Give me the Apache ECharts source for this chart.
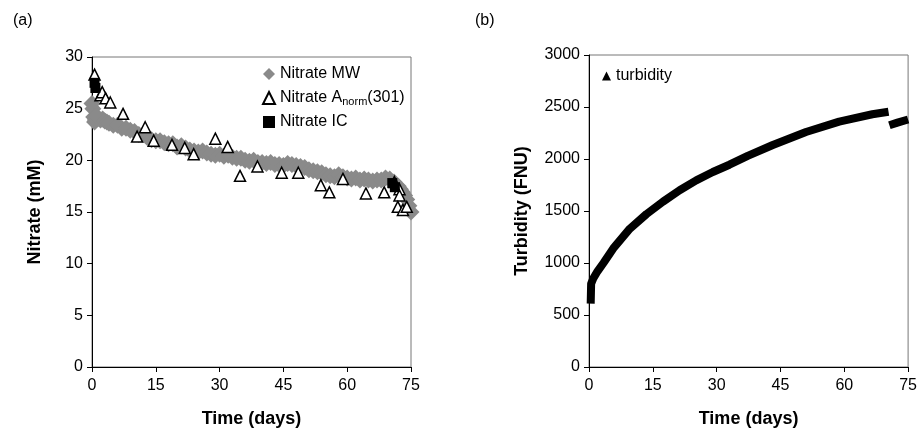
<!DOCTYPE html>
<html>
<head>
    <meta charset="utf-8">
    <title>Nitrate and turbidity</title>
    <script src="https://cdn.jsdelivr.net/npm/echarts@6/dist/echarts.min.js"></script>
    <style>
        html, body { margin: 0; padding: 0; background: #fff; }
        #main { width: 920px; height: 433px; }
    </style>
</head>
<body>
<div id="main"></div>
<script>
    // (a) nitrate MW - dense measurement band
    var mwTime = [0, 0.2, 0.4, 0.6, 0.8, 1, 1.5, 2, 2.5, 3, 3.5, 4, 5, 6, 7, 8, 9, 10, 11, 12, 13, 14, 15,
        16, 17, 18, 19, 20, 21, 22, 23, 24, 25, 26, 27, 28, 29, 30, 31, 32, 33, 34, 35, 36, 37, 38, 39, 40,
        41, 42, 43, 44, 45, 46, 47, 48, 49, 50, 51, 52, 53, 54, 55, 56, 57, 58, 59, 60, 61, 62, 63, 64, 65,
        66, 67, 68, 69, 70, 71, 72, 72.5, 73, 73.5, 74, 74.5, 75];
    var mwNitrate = [25.5, 25.0, 24.2, 23.7, 23.9, 24.3, 24.1, 23.9, 24.0, 23.8, 23.7, 23.6, 23.4, 23.4, 23.1,
        23.1, 22.9, 22.8, 22.5, 22.5, 22.2, 22.0, 21.9, 21.9, 21.7, 21.6, 21.6, 21.3, 21.4, 21.2, 21.0, 20.9,
        20.8, 20.9, 20.7, 20.6, 20.5, 20.6, 20.4, 20.5, 20.3, 20.2, 20.2, 20.0, 19.9, 20.0, 19.8, 19.8, 19.7,
        19.8, 19.6, 19.6, 19.5, 19.7, 19.6, 19.5, 19.4, 19.3, 19.1, 19.0, 18.9, 18.8, 18.6, 18.5, 18.4, 18.6,
        18.4, 18.3, 18.2, 18.3, 18.1, 18.2, 18.1, 18.0, 18.1, 18.1, 18.3, 18.2, 17.9, 17.5, 17.2, 16.9, 16.6,
        16.2, 15.6, 15.0];

    // nitrate from A_norm(301)
    var anTime = [0.6, 2.0, 2.4, 3.2, 4.3, 7.3, 10.6, 12.5, 14.5, 18.8, 21.8, 23.9, 29.0, 31.9, 34.8, 38.9,
        44.6, 48.5, 53.8, 55.8, 59.0, 64.4, 68.7, 71.1, 72.3, 72.3, 71.9, 73.1, 74.0];
    var anNitrate = [28.3, 26.3, 26.6, 26.0, 25.6, 24.5, 22.3, 23.2, 21.9, 21.5, 21.2, 20.6, 22.1, 21.3, 18.5,
        19.4, 18.8, 18.8, 17.6, 16.9, 18.2, 16.8, 16.9, 17.9, 17.2, 16.6, 15.5, 15.2, 15.5];

    // nitrate by ion chromatography
    var icTime = [0.6, 0.8, 70.6, 71.2];
    var icNitrate = [27.5, 27.0, 17.8, 17.4];

    // (b) turbidity, gap near day 70
    var turbTime = [0.4, 0.5, 1.0, 2.0, 3.4, 5.7, 9.6, 13.5, 17.4, 21.3, 25.2, 29.1, 33.0, 37.3, 43.2, 51.0,
        58.8, 66.6, 70.4, null, 70.6, 72.5, 75];
    var turbValue = [610, 800, 850, 920, 1000, 1140, 1330, 1470, 1590, 1700, 1795, 1875, 1945, 2030, 2135,
        2260, 2360, 2430, 2455, null, 2325, 2350, 2380];

    function pairs(xs, ys) {
        return xs.map(function (x, i) {
            return x === null ? '-' : [x, ys[i]];
        });
    }

    var font = 'Liberation Sans, Arial, sans-serif';

    function xAxisOf(idx) {
        return {
            type: 'value', gridIndex: idx, min: 0, max: 75, interval: 15,
            name: 'Time (days)', nameLocation: 'middle', nameGap: 43,
            nameTextStyle: {fontSize: 18, fontWeight: 'bold', color: '#000', fontFamily: font},
            axisLine: {lineStyle: {color: '#000', width: 1}},
            axisTick: {inside: false, length: 5, lineStyle: {color: '#000'}},
            axisLabel: {fontSize: 16, color: '#000', fontFamily: font, margin: 11},
            splitLine: {show: false}
        };
    }

    function yAxisOf(idx, max, step, name, gap) {
        return {
            type: 'value', gridIndex: idx, min: 0, max: max, interval: step,
            name: name, nameLocation: 'middle', nameGap: gap,
            nameTextStyle: {fontSize: 18, fontWeight: 'bold', color: '#000', fontFamily: font},
            axisLine: {show: true, lineStyle: {color: '#000', width: 1}},
            axisTick: {show: true, inside: false, length: 5, lineStyle: {color: '#000'}},
            axisLabel: {fontSize: 16, color: '#000', fontFamily: font, margin: 9,
                formatter: function (v) { return String(v); }},
            splitLine: {show: false}
        };
    }

    var option = {
        animation: false,
        backgroundColor: '#fff',
        title: [
            {text: '(a)', left: 8, top: 8, textStyle: {fontSize: 16, fontWeight: 'normal', color: '#000', fontFamily: font}},
            {text: '(b)', left: 470, top: 8, textStyle: {fontSize: 16, fontWeight: 'normal', color: '#000', fontFamily: font}}
        ],
        grid: [
            {left: 92, right: 509, top: 57, bottom: 62, show: true, borderColor: '#777', borderWidth: 1},
            {left: 589, right: 11, top: 55, bottom: 65, show: true, borderColor: '#777', borderWidth: 1}
        ],
        legend: [{
            data: ['Nitrate MW', 'Nitrate Anorm(301)', 'Nitrate IC'],
            orient: 'vertical', left: 257, top: 61, itemWidth: 12, itemHeight: 12, itemGap: 7,
            formatter: function (name) {
                if (name === 'Nitrate Anorm(301)') return '{t|Nitrate A}{s|norm}{t|(301)}';
                return '{t|' + name + '}';
            },
            textStyle: {
                rich: {
                    t: {fontSize: 16, color: '#000', fontFamily: font, lineHeight: 18},
                    s: {fontSize: 11, color: '#000', fontFamily: font, lineHeight: 18, padding: [7, 0, 0, 0]}
                }
            }
        }, {
            data: [{name: 'turbidity', icon: 'triangle'}],
            left: 597, top: 63, itemWidth: 9, itemHeight: 9,
            textStyle: {fontSize: 16, color: '#000', fontFamily: font}
        }],
        xAxis: [xAxisOf(0), xAxisOf(1)],
        yAxis: [
            yAxisOf(0, 30, 5, 'Nitrate (mM)', 48),
            yAxisOf(1, 3000, 500, 'Turbidity (FNU)', 58)
        ],
        series: [{
            name: 'Nitrate MW', type: 'scatter', xAxisIndex: 0, yAxisIndex: 0,
            symbol: 'diamond', symbolSize: 17,
            itemStyle: {color: '#8a8a8a', opacity: 1},
            data: pairs(mwTime, mwNitrate), z: 2
        }, {
            name: 'Nitrate Anorm(301)', type: 'scatter', xAxisIndex: 0, yAxisIndex: 0,
            symbol: 'triangle', symbolSize: 11,
            itemStyle: {color: '#fff', borderColor: '#000', borderWidth: 1.5, opacity: 1},
            data: pairs(anTime, anNitrate), z: 3
        }, {
            name: 'Nitrate IC', type: 'scatter', xAxisIndex: 0, yAxisIndex: 0,
            symbol: 'rect', symbolSize: 10,
            itemStyle: {color: '#000', opacity: 1},
            data: pairs(icTime, icNitrate), z: 4
        }, {
            name: 'turbidity', type: 'line', xAxisIndex: 1, yAxisIndex: 1,
            symbol: 'triangle', showSymbol: false, connectNulls: false,
            itemStyle: {color: '#000'},
            lineStyle: {color: '#000', width: 8, cap: 'butt', join: 'round'},
            data: pairs(turbTime, turbValue)
        }]
    };

    var myChart = echarts.init(document.getElementById('main'));
    myChart.setOption(option);
</script>
</body>
</html>
